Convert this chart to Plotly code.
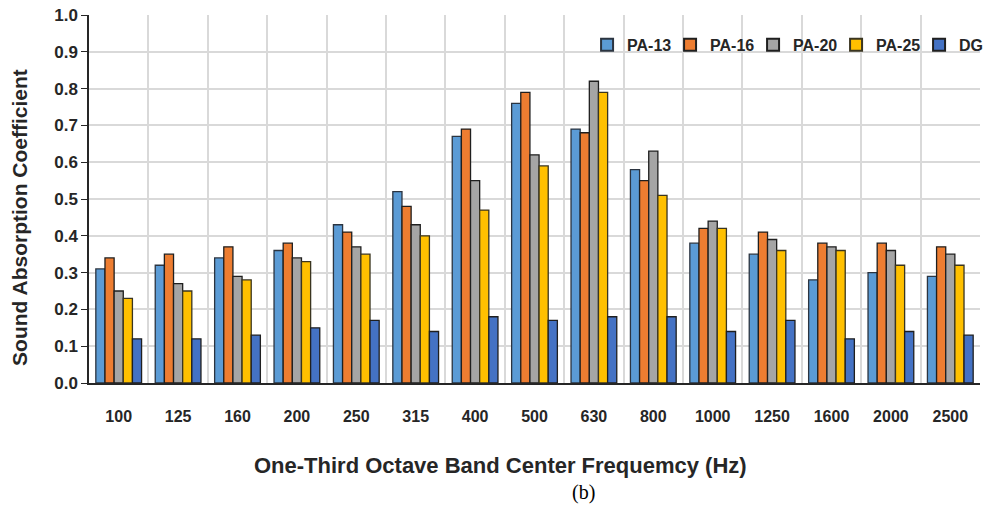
import plotly.graph_objects as go

categories = ["100", "125", "160", "200", "250", "315", "400", "500", "630",
              "800", "1000", "1250", "1600", "2000", "2500"]
pa13 = [0.31, 0.32, 0.34, 0.36, 0.43, 0.52, 0.67, 0.76, 0.69, 0.58, 0.38, 0.35, 0.28, 0.30, 0.29]
pa16 = [0.34, 0.35, 0.37, 0.38, 0.41, 0.48, 0.69, 0.79, 0.68, 0.55, 0.42, 0.41, 0.38, 0.38, 0.37]
pa20 = [0.25, 0.27, 0.29, 0.34, 0.37, 0.43, 0.55, 0.62, 0.82, 0.63, 0.44, 0.39, 0.37, 0.36, 0.35]
pa25 = [0.23, 0.25, 0.28, 0.33, 0.35, 0.40, 0.47, 0.59, 0.79, 0.51, 0.42, 0.36, 0.36, 0.32, 0.32]
dg   = [0.12, 0.12, 0.13, 0.15, 0.17, 0.14, 0.18, 0.17, 0.18, 0.18, 0.14, 0.17, 0.12, 0.14, 0.13]

series = [
    ("PA-13", pa13, "#5B9BD5", "#2b3440"),
    ("PA-16", pa16, "#ED7D31", "#1f1f1f"),
    ("PA-20", pa20, "#A5A5A5", "#1f1f1f"),
    ("PA-25", pa25, "#FFC000", "#3a3520"),
    ("DG", dg, "#4472C4", "#1f1f1f"),
]

fig = go.Figure()
for name, vals, col, lc in series:
    fig.add_trace(go.Bar(
        x=categories, y=vals, name=name,
        marker=dict(color=col, line=dict(color=lc, width=1.3)),
    ))

font_main = "Liberation Sans, Arial, sans-serif"
fig.update_layout(
    width=990, height=511,
    margin=dict(l=89, r=10, t=15, b=128, autoexpand=False),
    paper_bgcolor="white", plot_bgcolor="white",
    barmode="group", bargap=0.23, bargroupgap=0,
    showlegend=True,
    legend=dict(orientation="h", xref="container", yref="container",
                x=0.593, xanchor="left", y=0.912, yanchor="middle",
                font=dict(family=font_main, size=16, color="#262626", weight="bold"),
                bgcolor="rgba(255,255,255,0)", itemwidth=30, tracegroupgap=0,
                entrywidth=38, entrywidthmode="pixels",
                itemsizing="constant"),
    xaxis=dict(
        type="category", tickson="boundaries",
        showgrid=True, gridcolor="#D9D9D9", gridwidth=1.5,
        showline=True, linecolor="#262626", linewidth=1.5,
        ticks="", ticklabelstandoff=18,
        tickfont=dict(family=font_main, size=16, color="#262626", weight="bold"),
    ),
    yaxis=dict(
        range=[0, 1.0], dtick=0.1, tickformat=".1f",
        showgrid=True, gridcolor="#D9D9D9", gridwidth=1.5,
        showline=True, linecolor="#262626", linewidth=1.5,
        ticks="outside", ticklen=6, tickcolor="#262626",
        tickfont=dict(family=font_main, size=17, color="#262626", weight="bold"),
        zeroline=False,
    ),
    annotations=[
        dict(text="<b>Sound Absorption Coefficient</b>", xref="paper", yref="paper",
             x=-0.078, y=0.45, xanchor="center", yanchor="middle", textangle=-90,
             showarrow=False, font=dict(family=font_main, size=21, color="#262626")),
        dict(text="<b>One-Third Octave Band Center Frequemcy (Hz)</b>", xref="paper", yref="paper",
             x=0.462, y=-0.225, xanchor="center", yanchor="middle",
             showarrow=False, font=dict(family=font_main, size=22, color="#262626")),
        dict(text="(b)", xref="paper", yref="paper",
             x=0.555, y=-0.297, xanchor="center", yanchor="middle",
             showarrow=False, font=dict(family="Liberation Serif, Times New Roman, serif",
                                        size=20, color="black")),
    ],
)

fig.write_html("out.html")
